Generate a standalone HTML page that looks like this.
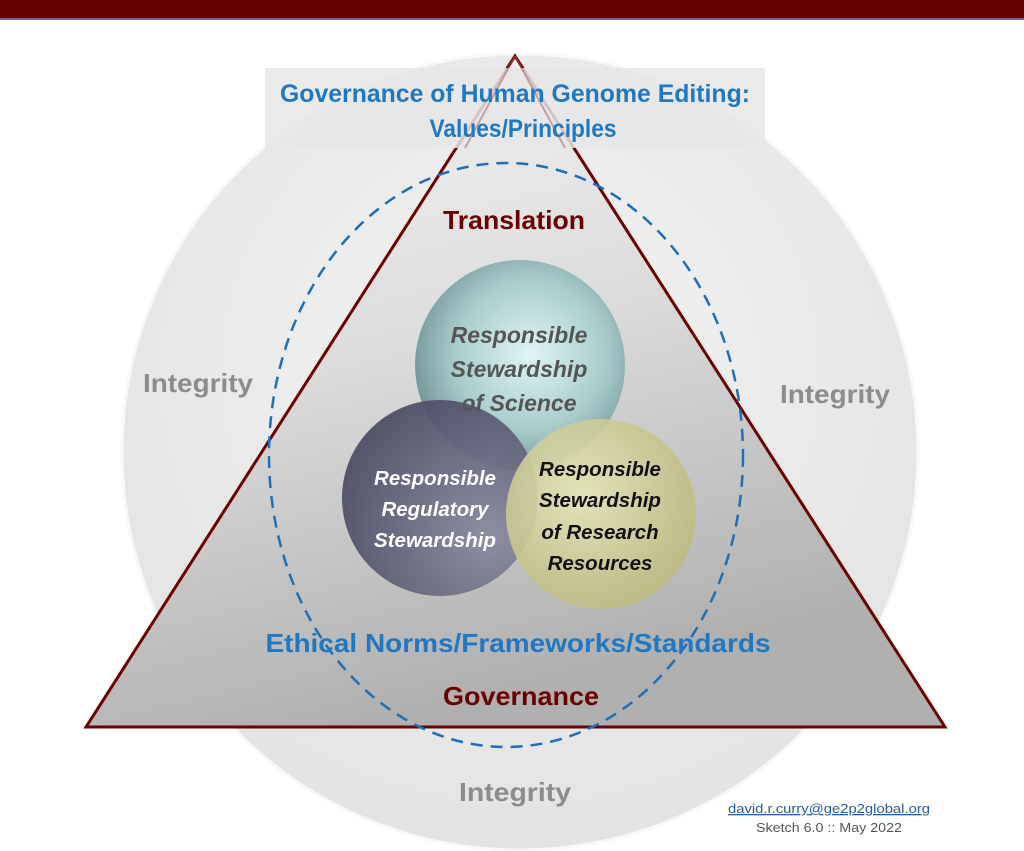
<!DOCTYPE html>
<html><head><meta charset="utf-8"><style>
html,body{margin:0;padding:0;background:#fff;}
svg{display:block;}
text{font-family:"Liberation Sans",sans-serif;font-weight:bold;}
</style></head><body>
<svg width="1024" height="851" viewBox="0 0 1024 851" xmlns="http://www.w3.org/2000/svg">
<defs>
<radialGradient id="cg" cx="0.5" cy="0.4" r="0.6">
<stop offset="0" stop-color="#f4f4f4"/><stop offset="1" stop-color="#e3e3e3"/>
</radialGradient>
<linearGradient id="tg" x1="0" y1="0" x2="0.3" y2="1">
<stop offset="0" stop-color="#f6f6f6"/><stop offset="0.5" stop-color="#dcdcdc"/><stop offset="1" stop-color="#b0b0b0"/>
</linearGradient>
<radialGradient id="teal" cx="0.55" cy="0.45" r="0.6">
<stop offset="0" stop-color="#e0f4f4"/><stop offset="0.6" stop-color="#a8cccc"/><stop offset="1" stop-color="#6d8f93"/>
</radialGradient>
<radialGradient id="purp" cx="0.75" cy="0.7" r="0.8">
<stop offset="0" stop-color="#8a8aa0"/><stop offset="1" stop-color="#4a4a63"/>
</radialGradient>
<radialGradient id="yel" cx="0.4" cy="0.4" r="0.7">
<stop offset="0" stop-color="#e6e6b8"/><stop offset="1" stop-color="#b9b57a"/>
</radialGradient>
</defs>
<rect x="0" y="0" width="1024" height="18" fill="#660000"/>
<rect x="0" y="18" width="1024" height="2" fill="#6a6a9a"/>
<circle cx="520" cy="452" r="398" fill="url(#cg)" stroke="#f8f8f8" stroke-width="3"/>
<polygon points="515,56 86,727 945,727" fill="url(#tg)" stroke="#6b0000" stroke-width="3"/>
<rect x="265" y="68" width="500" height="80" fill="#e6e6e6" opacity="0.85"/>
<line x1="515" y1="56" x2="465" y2="148" stroke="#a05a5a" stroke-width="2" opacity="0.5"/>
<line x1="515" y1="56" x2="565" y2="148" stroke="#a05a5a" stroke-width="2" opacity="0.5"/>
<text x="515" y="102" font-size="25" fill="#1f78c1" text-anchor="middle" textLength="470" lengthAdjust="spacingAndGlyphs">Governance of Human Genome Editing:</text>
<text x="523" y="137" font-size="25" fill="#1f78c1" text-anchor="middle" textLength="187" lengthAdjust="spacingAndGlyphs">Values/Principles</text>
<ellipse cx="506" cy="455" rx="237" ry="292" fill="none" stroke="#1f6fb8" stroke-width="2.5" stroke-dasharray="12,8"/>
<text x="514" y="229" font-size="26" fill="#6b0000" text-anchor="middle" textLength="142" lengthAdjust="spacingAndGlyphs">Translation</text>
<circle cx="520" cy="365" r="105" fill="url(#teal)"/>
<circle cx="440" cy="498" r="98" fill="url(#purp)" opacity="0.92"/>
<circle cx="601" cy="514" r="95" fill="url(#yel)" opacity="0.9"/>
<g font-style="italic" text-anchor="middle">
<text x="519" y="343" fill="#555" font-size="23">Responsible</text>
<text x="519" y="377" fill="#555" font-size="23">Stewardship</text>
<text x="519" y="411" fill="#555" font-size="23">of Science</text>
<text x="435" y="485" fill="#fff" font-size="20.5">Responsible</text>
<text x="435" y="516" fill="#fff" font-size="20.5">Regulatory</text>
<text x="435" y="547" fill="#fff" font-size="20.5">Stewardship</text>
<text x="600" y="476" fill="#111" font-size="20.5">Responsible</text>
<text x="600" y="507" fill="#111" font-size="20.5">Stewardship</text>
<text x="600" y="539" fill="#111" font-size="20.5">of Research</text>
<text x="600" y="570" fill="#111" font-size="20.5">Resources</text>
</g>
<text x="518" y="652" font-size="26" fill="#1f78c1" text-anchor="middle" textLength="505" lengthAdjust="spacingAndGlyphs">Ethical Norms/Frameworks/Standards</text>
<text x="521" y="705" font-size="26" fill="#6b0000" text-anchor="middle" textLength="156" lengthAdjust="spacingAndGlyphs">Governance</text>
<g fill="#8c8c8c" font-size="26" text-anchor="middle">
<text x="198" y="392" textLength="110" lengthAdjust="spacingAndGlyphs">Integrity</text>
<text x="835" y="403" textLength="110" lengthAdjust="spacingAndGlyphs">Integrity</text>
<text x="515" y="801" textLength="112" lengthAdjust="spacingAndGlyphs">Integrity</text>
</g>
<text x="829" y="813" font-size="13" fill="#1f5fa8" text-anchor="middle" style="font-weight:normal" text-decoration="underline" textLength="202" lengthAdjust="spacingAndGlyphs">david.r.curry@ge2p2global.org</text>
<text x="829" y="832" font-size="13" fill="#555" text-anchor="middle" style="font-weight:normal" textLength="146" lengthAdjust="spacingAndGlyphs">Sketch 6.0 :: May 2022</text>
</svg>
</body></html>
